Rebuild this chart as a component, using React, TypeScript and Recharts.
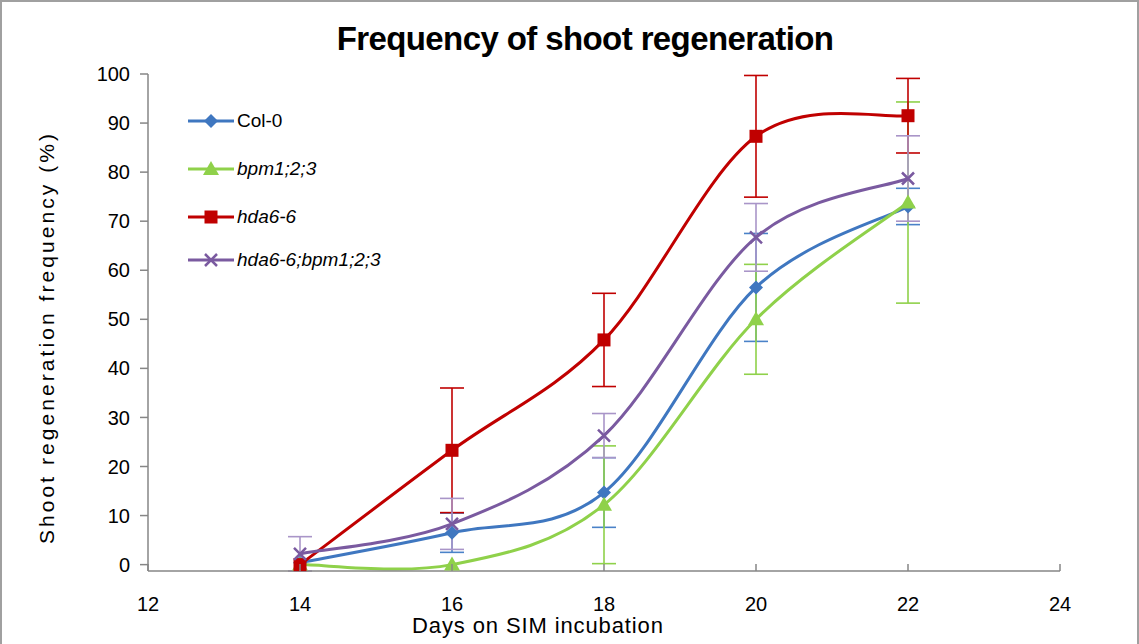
import { CartesianGrid, ErrorBar, Line, LineChart, XAxis, YAxis } from "recharts"

// days on SIM
const days = [14, 16, 18, 20, 22]
const xTicks = [12, 14, 16, 18, 20, 22, 24]
const yTicks = [0, 10, 20, 30, 40, 50, 60, 70, 80, 90, 100]

// mean values (%)
const col0 = [0.4, 6.5, 14.7, 56.5, 73]
const bpm = [0, 0, 12.2, 50, 73.8]
const hda6 = [0, 23.3, 45.8, 87.3, 91.5]
const hdaBpm = [2.2, 8.3, 26.3, 66.7, 78.7]

// error bars (+/-)
const col0Err = [0, 4, 7.1, 11, 3.7]
const bpmErr = [0, 0, 12, 11.2, 20.5]
const hda6Err = [0, 12.7, 9.5, 12.4, 7.6]
const hdaBpmErr = [3.5, 5.2, 4.5, 6.9, 8.7]

const series = [
  { key: "col0", name: "Col-0", color: "#3f77c0", errColor: "#4a82c8", shape: "diamond", italic: false },
  { key: "bpm", name: "bpm1;2;3", color: "#8fd14a", errColor: "#8fd14a", shape: "triangle", italic: true },
  { key: "hda6", name: "hda6-6", color: "#c00000", errColor: "#c00000", shape: "square", italic: true },
  { key: "hdaBpm", name: "hda6-6;bpm1;2;3", color: "#7a5aa0", errColor: "#a995c8", shape: "cross", italic: true },
]

const data = days.map((d, i) => ({
  day: d,
  col0: col0[i],
  col0Err: col0Err[i],
  bpm: bpm[i],
  bpmErr: bpmErr[i],
  hda6: hda6[i],
  hda6Err: hda6Err[i],
  hdaBpm: hdaBpm[i],
  hdaBpmErr: hdaBpmErr[i],
}))

const FONT = "'Liberation Sans', Arial, sans-serif"

// excel-like smoothed line (catmull-rom)
const smoothCurve = (context: any) => {
  let pts: number[][] = []
  return {
    areaStart() {},
    areaEnd() {},
    lineStart() {
      pts = []
    },
    point(x: number, y: number) {
      pts.push([+x, +y])
    },
    lineEnd() {
      if (!pts.length) return
      context.moveTo(pts[0][0], pts[0][1])
      for (let i = 0; i < pts.length - 1; i++) {
        const p0 = pts[i - 1] || pts[i]
        const p1 = pts[i]
        const p2 = pts[i + 1]
        const p3 = pts[i + 2] || pts[i + 1]
        context.bezierCurveTo(
          p1[0] + (p2[0] - p0[0]) / 6,
          p1[1] + (p2[1] - p0[1]) / 6,
          p2[0] - (p3[0] - p1[0]) / 6,
          p2[1] - (p3[1] - p1[1]) / 6,
          p2[0],
          p2[1]
        )
      }
    },
  }
}

function Marker({ cx, cy, shape, color }: any) {
  if (cx == null || cy == null) return null
  if (shape === "diamond") {
    const s = 7
    return <path d={`M${cx},${cy - s}L${cx + s},${cy}L${cx},${cy + s}L${cx - s},${cy}Z`} fill={color} />
  }
  if (shape === "triangle") {
    const s = 8
    return <path d={`M${cx},${cy - s}L${cx + s},${cy + s * 0.75}L${cx - s},${cy + s * 0.75}Z`} fill={color} />
  }
  if (shape === "square") {
    const s = 6.5
    return <rect x={cx - s} y={cy - s} width={s * 2} height={s * 2} fill={color} />
  }
  const s = 6
  return (
    <path
      d={`M${cx - s},${cy - s}L${cx + s},${cy + s}M${cx - s},${cy + s}L${cx + s},${cy - s}`}
      stroke={color}
      strokeWidth={2.5}
    />
  )
}

const XTick = ({ x, y, payload }: any) => (
  <g>
    <line x1={x} x2={x} y1={y} y2={y - 7} stroke="#868686" strokeWidth={1.5} />
    <text x={x} y={y + 40} textAnchor="middle" fontSize={20} fontFamily={FONT} fill="#000">
      {payload.value}
    </text>
  </g>
)

const LegendBox = () => (
  <div style={{ position: "absolute", left: 186, top: 95, fontFamily: FONT, fontSize: 19, color: "#000" }}>
    {series.map((s, i) => (
      <div key={s.key} style={{ display: "flex", alignItems: "center", height: 48, marginTop: i === 3 ? -5 : 0 }}>
        <svg width={46} height={20}>
          <line x1={0} x2={46} y1={10} y2={10} stroke={s.color} strokeWidth={3} />
          <Marker cx={23} cy={10} shape={s.shape} color={s.color} />
        </svg>
        <span style={{ fontStyle: s.italic ? "italic" : "normal", marginLeft: 3 }}>{s.name}</span>
      </div>
    ))}
  </div>
)

export default function App() {
  return (
    <div
      style={{
        position: "absolute",
        left: 0,
        top: 0,
        width: 1139,
        height: 644,
        background: "#fff",
        boxSizing: "border-box",
        borderTop: "2px solid #a0a0a0",
        borderLeft: "2px solid #a0a0a0",
        borderRight: "2px solid #a0a0a0",
        overflow: "hidden",
      }}
    >
      <div style={{ position: "absolute", left: -2, top: -2 }}>
        <LineChart width={1139} height={644} data={data} margin={{ top: 74, right: 79, left: 0, bottom: 0 }}>
          <CartesianGrid stroke="none" />
          <XAxis
            dataKey="day"
            type="number"
            domain={[12, 24]}
            ticks={xTicks}
            interval={0}
            height={73}
            tickSize={0}
            tickMargin={0}
            tickLine={false}
            tick={<XTick />}
            axisLine={{ stroke: "#868686", strokeWidth: 1.5 }}
            label={{
              content: () => (
                <text
                  x={537.5}
                  y={633}
                  textAnchor="middle"
                  fontSize={22}
                  fontFamily={FONT}
                  fill="#000"
                  textLength={251}
                  lengthAdjust="spacing"
                >
                  Days on SIM incubation
                </text>
              ),
            }}
          />
          <YAxis
            type="number"
            domain={[0, 100]}
            ticks={yTicks}
            interval={0}
            width={148}
            tickSize={8}
            tickMargin={10}
            tick={{ fontSize: 20, fontFamily: FONT, fill: "#000" }}
            tickLine={{ stroke: "#868686", strokeWidth: 1.5 }}
            axisLine={{ stroke: "#868686", strokeWidth: 1.5 }}
            label={{
              content: () => (
                <text
                  x={54}
                  y={339}
                  textAnchor="middle"
                  fontSize={21}
                  fontFamily={FONT}
                  fill="#000"
                  textLength={410}
                  lengthAdjust="spacing"
                  transform="rotate(-90 54 339)"
                >
                  Shoot regeneration frequency (%)
                </text>
              ),
            }}
          />
          {series.map((s) => (
            <Line
              key={s.key}
              dataKey={s.key}
              name={s.name}
              type={smoothCurve as any}
              stroke={s.color}
              strokeWidth={3}
              isAnimationActive={false}
              dot={(p: any) => <Marker key={`${s.key}-${p.index}`} cx={p.cx} cy={p.cy} shape={s.shape} color={s.color} />}
              activeDot={false}
            >
              <ErrorBar dataKey={`${s.key}Err`} direction="y" width={12} strokeWidth={1.6} stroke={s.errColor} isAnimationActive={false} />
            </Line>
          ))}
        </LineChart>
      </div>
      <div
        style={{
          position: "absolute",
          left: 0,
          width: 1166,
          top: 18,
          textAlign: "center",
          fontFamily: FONT,
          fontWeight: "bold",
          fontSize: 33,
          letterSpacing: -0.6,
          color: "#000",
        }}
      >
        Frequency of shoot regeneration
      </div>
      <LegendBox />
    </div>
  )
}
